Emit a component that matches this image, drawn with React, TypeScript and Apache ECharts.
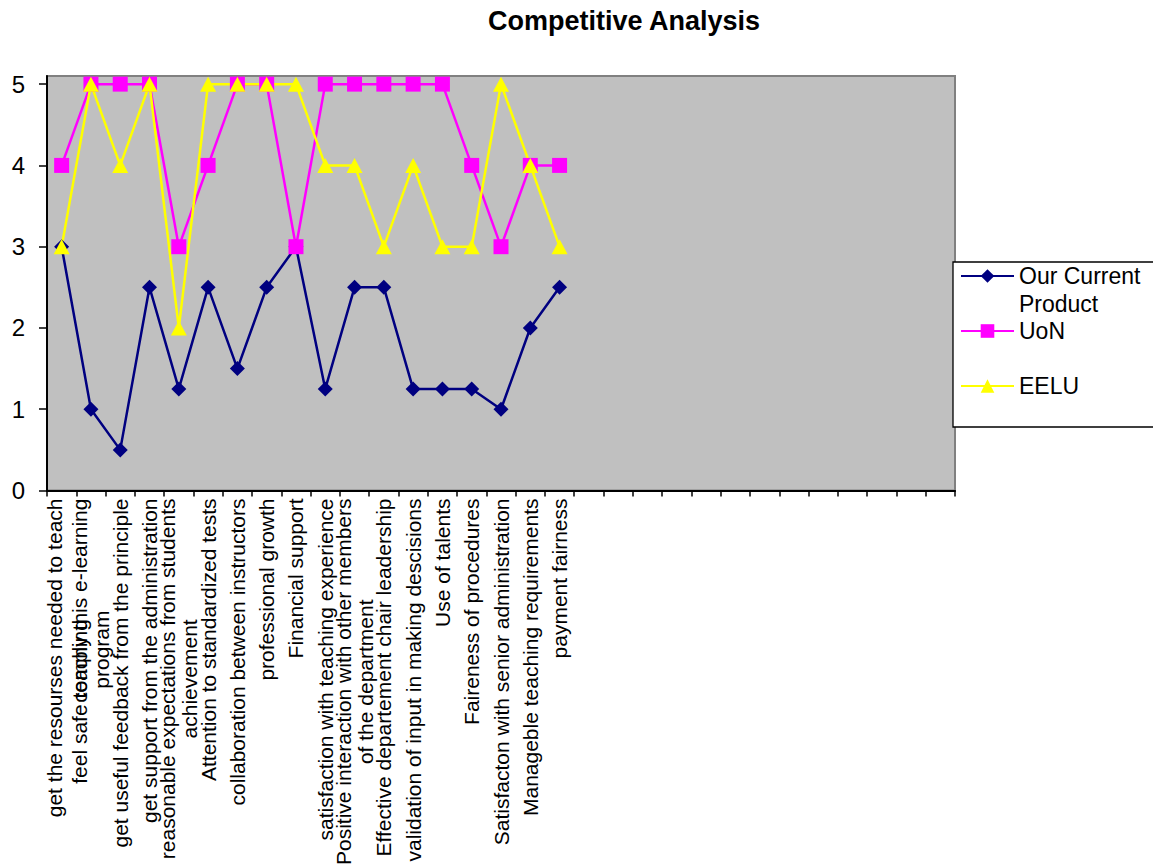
import React, { useEffect, useRef } from "react";
import * as echarts from "echarts";

const TITLE = "Competitive Analysis";

const categories: string[] = [
  "get the resourses needed to teach",
  "feel safe teaching\ncomply this e-learning\nprogram",
  "get useful feedback from the principle",
  "get support from the administration",
  "reasonable expectations from students\nachievement",
  "Attention to standardized tests",
  "collaboration between instructors",
  "professional growth",
  "Financial support",
  "satisfaction with teaching experience",
  "Positive interaction with other members\nof the department",
  "Effective departement chair leadership",
  "validation of input in making descisions",
  "Use of talents",
  "Faireness of procedures",
  "Satisfacton with senior administration",
  "Manageble teaching requirements",
  "payment fairness",
  "", "", "", "", "", "", "", "", "", "", "", "", "",
];

const seriesNames = ["Our Current Product", "UoN", "EELU"];
const legendLines: Record<string, string[]> = {
  "Our Current Product": ["Our Current", "Product"],
  UoN: ["UoN"],
  EELU: ["EELU"],
};

const ourCurrent = [3, 1, 0.5, 2.5, 1.25, 2.5, 1.5, 2.5, 3, 1.25, 2.5, 2.5, 1.25, 1.25, 1.25, 1, 2, 2.5];
const uon = [4, 5, 5, 5, 3, 4, 5, 5, 3, 5, 5, 5, 5, 5, 4, 3, 4, 4];
const eelu = [3, 5, 4, 5, 2, 5, 5, 5, 5, 4, 4, 3, 4, 3, 3, 5, 4, 3];

const yTicks = [0, 1, 2, 3, 4, 5];

const FONT = "'Liberation Sans', Arial, sans-serif";

export default function App() {
  const ref = useRef<HTMLDivElement>(null);
  useEffect(() => {
    if (!ref.current) return;
    const chart = echarts.init(ref.current, null, { renderer: "svg" });
    const labelFs = 21;
    const base = { fontSize: labelFs, fontFamily: FONT, color: "#000", lineHeight: 22 };
    const rich = {
      c: { ...base, align: "center" },
      c1: { ...base, align: "center", padding: [0, 0, 14, 0] },
      a: { ...base, align: "left", width: 81, overflow: "none" },
      b: { ...base, align: "right" },
      p: { ...base, align: "right", padding: [0, 112, 0, 0] },
    };
    const mk = (name: string, data: number[], color: string, symbol: string, size: any) => ({
      name,
      type: "line",
      data,
      symbol,
      symbolSize: size,
      showSymbol: true,
      lineStyle: { color, width: 2.5 },
      itemStyle: { color },
    });
    chart.setOption({
      animation: false,
      backgroundColor: "#fff",
      textStyle: { fontFamily: FONT },
      title: {
        text: TITLE,
        left: 488,
        top: 7,
        padding: 0,
        textStyle: { fontSize: 27, fontWeight: "bold", color: "#000", fontFamily: FONT },
      },
      legend: {
        orient: "vertical",
        left: 960,
        top: 234,
        padding: 0,
        itemGap: -29,
        itemWidth: 53,
        itemHeight: 17,
        z: 5,
        data: seriesNames,
        formatter: (name: string) =>
          "\n" + legendLines[name].join("\n") + (legendLines[name].length === 1 ? "\n" : ""),
        textStyle: { fontSize: 23, lineHeight: 28, color: "#000", fontFamily: FONT },
      },
      graphic: [
        {
          type: "rect",
          z: 3,
          shape: { x: 953, y: 262, width: 220, height: 165 },
          style: { fill: "#fff", stroke: "#000", lineWidth: 1.3 },
        },
      ],
      grid: {
        left: 47,
        right: 198,
        top: 76,
        bottom: 377,
        show: true,
        backgroundColor: "#C0C0C0",
        borderColor: "#808080",
        borderWidth: 2,
      },
      xAxis: {
        type: "category",
        data: categories,
        boundaryGap: true,
        axisLine: { lineStyle: { color: "#000", width: 2 } },
        axisTick: { show: true, interval: 0, length: 6, lineStyle: { color: "#000", width: 1.5 } },
        axisLabel: {
          interval: 0,
          rotate: 90,
          margin: 8,
          fontSize: labelFs,
          color: "#000",
          fontFamily: FONT,
          lineHeight: 22,
          rich,
          formatter: (value: string, index: number) => {
            if (!value) return "";
            const lines = value.split("\n");
            if (index === 1) {
              return `{a|${lines[0]}}{b|${lines[1]}}\n{p|${lines[2]}}`;
            }
            if (index === 0) return `{c1|${lines[0]}}`;
            return lines.map((l) => `{c|${l}}`).join("\n");
          },
        },
        splitLine: { show: false },
      },
      yAxis: {
        type: "value",
        min: 0,
        max: 5.1,
        interval: 1,
        axisLine: { show: true, lineStyle: { color: "#000", width: 2 } },
        axisTick: { show: true, length: 8, customValues: yTicks, lineStyle: { color: "#000", width: 1.5 } },
        axisLabel: { customValues: yTicks, margin: 22, fontSize: 24, color: "#000", fontFamily: FONT },
        splitLine: { show: false },
      },
      series: [
        mk(seriesNames[0], ourCurrent, "#000080", "diamond", [15, 15]),
        mk(seriesNames[1], uon, "#FF00FF", "rect", [15, 15]),
        mk(seriesNames[2], eelu, "#FFFF00", "triangle", [16, 15]),
      ],
    });
    return () => chart.dispose();
  }, []);
  return (
    <div
      ref={ref}
      style={{ position: "fixed", left: 0, top: 0, width: 1153, height: 868 }}
    />
  );
}
